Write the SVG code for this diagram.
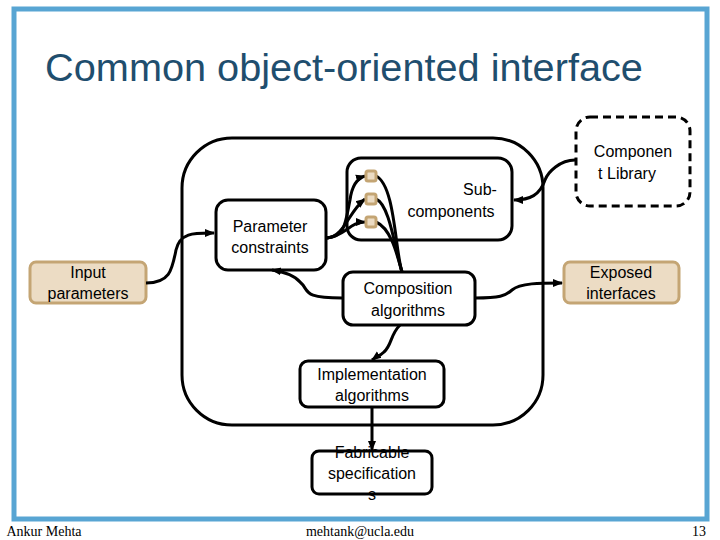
<svg xmlns="http://www.w3.org/2000/svg" width="720" height="540" viewBox="0 0 720 540">
<defs>
<style>
.n{fill:#fff;stroke:#000;stroke-width:3}
.t{fill:#ecdcc4;stroke:#c4a574;stroke-width:3}
.c{fill:none;stroke:#000;stroke-width:3}
text{font-family:"Liberation Sans",Arial,sans-serif;font-size:16px;fill:#000;text-anchor:middle}
</style>
<marker id="a" markerWidth="10" markerHeight="10" refX="9" refY="5" orient="auto" markerUnits="userSpaceOnUse"><path d="M0,1L10,5L0,9z" fill="#000"/></marker>
</defs>
<rect x="0" y="0" width="720" height="540" fill="#fff"/>
<rect x="14" y="9" width="693" height="510" fill="none" stroke="#58a5d3" stroke-width="5"/>
<text x="344" y="81" style="font-size:39.7px;fill:#1f4e6e">Common object-oriented interface</text>
<g id="frame"><rect x="182" y="138" width="361" height="287" rx="50" class="n"/></g>
<g id="input"><rect x="30" y="262" width="116" height="41" rx="6" class="t"/><text x="88" y="278">Input</text><text x="88" y="299">parameters</text></g>
<g id="exposed"><rect x="564" y="262" width="115" height="41" rx="6" class="t"/><text x="621" y="278">Exposed</text><text x="621" y="299">interfaces</text></g>
<g id="library"><rect x="576" y="117" width="114" height="89" rx="14" fill="#fff" stroke="#000" stroke-width="3" stroke-dasharray="8,5"/><text x="633" y="157">Componen</text><text x="627" y="179">t Library</text></g>
<g id="params"><rect x="216" y="200" width="110" height="70" rx="12" class="n"/><text x="270" y="232">Parameter</text><text x="270" y="253">constraints</text></g>
<g id="subs"><rect x="347" y="158" width="165" height="82" rx="14" class="n"/><text x="480" y="195">Sub-</text><text x="451" y="217">components</text></g>
<g id="comp"><rect x="343" y="272" width="132" height="53" rx="10" class="n"/><text x="408" y="294">Composition</text><text x="408" y="316">algorithms</text></g>
<g id="impl"><rect x="300" y="361" width="144" height="46" rx="8" class="n"/><text x="372" y="380">Implementation</text><text x="372" y="401">algorithms</text></g>
<g id="fab"><rect x="312" y="451" width="120" height="43" rx="7" class="n"/><text x="372" y="458">Fabricable</text><text x="372" y="479">specification</text><text x="372" y="500">s</text></g>
<g id="connectors">
<path class="c" d="M146,283 C170,283 172,270 176,250 C180,232 195,233 214,233" marker-end="url(#a)"/>
<path class="c" d="M342,298 C300,298 310,290 300,282 C295,276 285,272 272,270" marker-end="url(#a)"/>
<path class="c" d="M327,238 C345,236 345,225 350,200 C352,185 358,178 365,176" marker-end="url(#a)"/>
<path class="c" d="M327,238 C345,236 348,212 365,199" marker-end="url(#a)"/>
<path class="c" d="M327,238 C345,236 350,222 365,222" marker-end="url(#a)"/>
<path class="c" d="M376,176 C395,185 395,250 402,272"/>
<path class="c" d="M376,199 C390,205 395,250 402,272"/>
<path class="c" d="M376,222 C390,228 396,250 402,272"/>
<path class="c" d="M475,298 C500,298 505,296 512,290 C520,283 540,283 562,283" marker-end="url(#a)"/>
<path class="c" d="M575,160 C560,160 548,172 545,180 C540,195 530,200 514,200" marker-end="url(#a)"/>
<path class="c" d="M400,325 C390,335 392,345 384,352 C380,356 376,357 372,360" marker-end="url(#a)"/>
<path class="c" d="M372,407 L372,450" marker-end="url(#a)"/>
</g>
<g id="ports"><rect x="366" y="171" width="10" height="10" rx="2" class="t"/><rect x="366" y="194" width="10" height="10" rx="2" class="t"/><rect x="366" y="217" width="10" height="10" rx="2" class="t"/></g>
<text x="44" y="536" style="font-family:'Liberation Serif',serif;font-size:14px">Ankur Mehta</text>
<text x="360" y="536" style="font-family:'Liberation Serif',serif;font-size:14px">mehtank@ucla.edu</text>
<text x="706" y="536" style="font-family:'Liberation Serif',serif;font-size:14px;text-anchor:end">13</text>
</svg>
